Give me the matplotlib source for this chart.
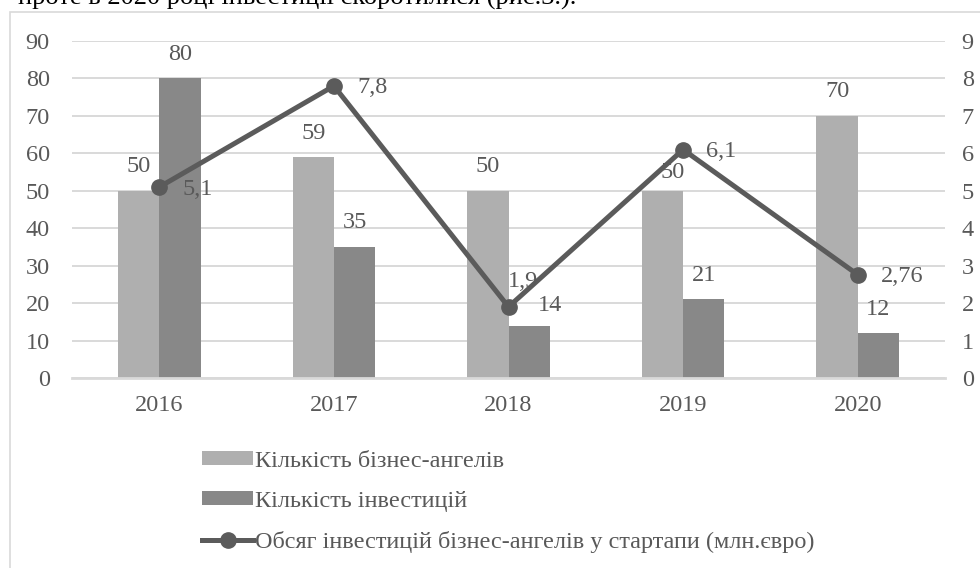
import matplotlib
matplotlib.use("Agg")
import matplotlib.pyplot as plt
from matplotlib.patches import Rectangle
import numpy as np

plt.rcParams['font.family'] = ['Liberation Serif', 'DejaVu Serif']

years = ['2016', '2017', '2018', '2019', '2020']
angels = [50, 59, 50, 50, 70]
investments = [80, 35, 14, 21, 12]
volume = [5.1, 7.8, 1.9, 6.1, 2.76]

label_angels = 'Кількість бізнес-ангелів'
label_invest = 'Кількість інвестицій'
label_volume = 'Обсяг інвестицій бізнес-ангелів у стартапи (млн.євро)'
caption = 'проте в 2020 році інвестиції скоротилися (рис.3.).'

TXT = '#595959'
GRID = '#d9d9d9'
LIGHT = '#afafaf'
DARK = '#888888'
LINE = '#5b5b5b'
FS = 17.5

fig = plt.figure(figsize=(9.8, 5.68), dpi=100)

# chart frame (right and bottom edges fall outside the picture)
fig.patches.append(Rectangle((10 / 980, -0.1), 1.2, 1 - 12 / 568 + 0.1,
                             transform=fig.transFigure, fill=False,
                             edgecolor=GRID, lw=1.2))
fig.text(18 / 980, 1 - 5 / 568, caption, fontsize=19, color='black',
         va='baseline', ha='left')

ax = fig.add_axes([72 / 980, 1 - 378 / 568, 873 / 980, 337 / 568])
x = np.arange(len(years))
w = 0.237

b1 = ax.bar(x - w / 2, angels, w, color=LIGHT, zorder=2, label=label_angels)
b2 = ax.bar(x + w / 2, investments, w, color=DARK, zorder=2, label=label_invest)

ax.set_xlim(-0.5, len(years) - 0.5)
ax.set_ylim(0, 90)
ax.set_yticks(range(0, 91, 10))
ax.set_xticks(x)
ax.set_xticklabels(years)
ax.grid(axis='y', color=GRID, lw=1.4, zorder=0)
ax.set_axisbelow(True)
for s in ['top', 'left', 'right']:
    ax.spines[s].set_visible(False)
ax.spines['bottom'].set_color(GRID)
ax.spines['bottom'].set_linewidth(2)
ax.tick_params(axis='both', length=0, labelsize=FS, labelcolor=TXT)
ax.tick_params(axis='y', pad=16)
ax.tick_params(axis='x', pad=12)

ax2 = ax.twinx()
ax2.set_ylim(0, 9)
ax2.set_yticks(range(0, 10))
for s in ax2.spines.values():
    s.set_visible(False)
ax2.tick_params(axis='y', length=0, labelsize=FS, labelcolor=TXT, pad=12)
ln, = ax2.plot(x, volume, color=LINE, lw=3.6, marker='o', markersize=11,
               zorder=3, label=label_volume)

# data labels (a few were nudged by hand in the original)
angel_off = {3: (10, 18)}
invest_off = {2: (21, 20)}
volume_off = {2: (-1, 25)}

for i, v in enumerate(angels):
    dx, dy = angel_off.get(i, (0, 24))
    ax.annotate(str(v), (x[i] - w / 2, v), xytext=(dx, dy),
                textcoords='offset pixels', ha='center', va='center',
                fontsize=FS, color=TXT, zorder=4)
for i, v in enumerate(investments):
    dx, dy = invest_off.get(i, (0, 24))
    ax.annotate(str(v), (x[i] + w / 2, v), xytext=(dx, dy),
                textcoords='offset pixels', ha='center', va='center',
                fontsize=FS, color=TXT, zorder=4)
for i, v in enumerate(volume):
    dx, dy = volume_off.get(i, (23, -2))
    ax2.annotate(str(v).replace('.', ','), (x[i], v), xytext=(dx, dy),
                 textcoords='offset pixels', ha='left', va='center',
                 fontsize=FS, color=TXT, zorder=4)

fig.legend(handles=[b1, b2, ln], loc='upper left',
           bbox_to_anchor=(202 / 980, 1 - 451 / 568), frameon=False,
           fontsize=FS, labelcolor=TXT, borderpad=0, borderaxespad=0,
           handlelength=2.1, handleheight=0.5, handletextpad=0.1,
           labelspacing=0.78)

fig.savefig('out.png', dpi=100)
plt.close(fig)
